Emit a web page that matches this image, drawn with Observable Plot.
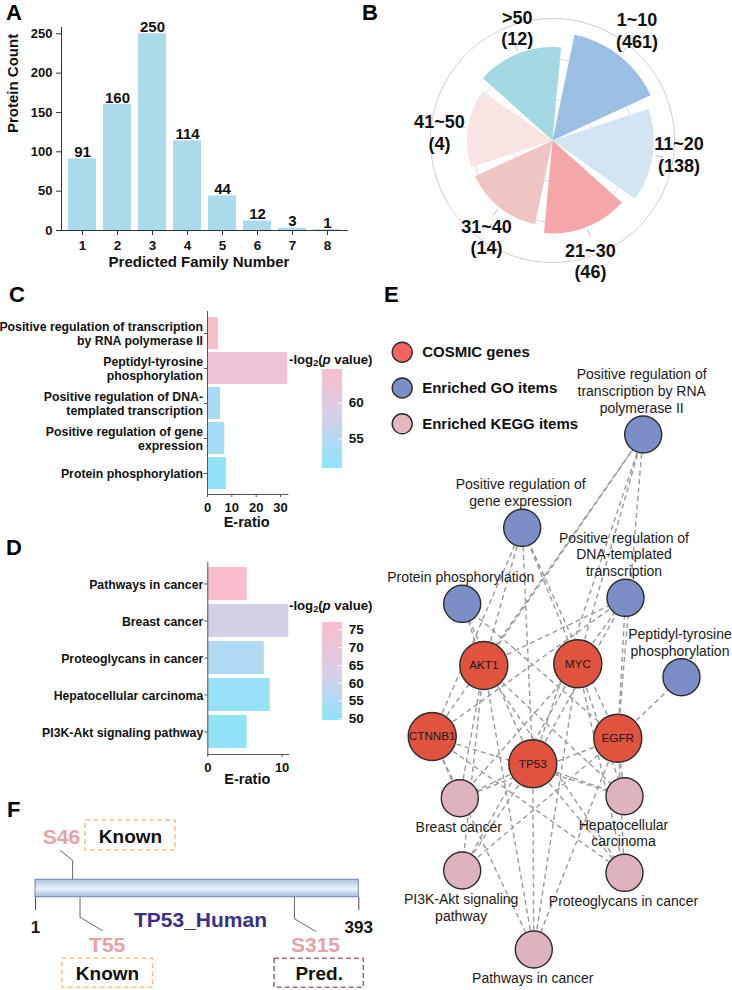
<!DOCTYPE html>
<html><head><meta charset="utf-8">
<script src="https://cdn.jsdelivr.net/npm/d3@7"></script>
<script src="https://cdn.jsdelivr.net/npm/@observablehq/plot@0.6"></script>
<style>
html,body{margin:0;padding:0;background:#fff;}
#fig{position:relative;width:732px;height:990px;overflow:hidden;background:#fff;font-family:"Liberation Sans",Arial,Helvetica,sans-serif;}
.letter{position:absolute;font-weight:bold;font-size:22px;line-height:1;color:#000;}
.lgtitle{position:absolute;font-weight:bold;font-size:13.2px;line-height:14px;white-space:nowrap;color:#111;}
.lgtitle sub{font-size:9px;vertical-align:-2px;line-height:0;}
</style></head><body><div id="fig"></div>
<script>
// ---------------- DATA ----------------
// A: predicted family number histogram
const familyNumbers = ["1","2","3","4","5","6","7","8"];
const proteinCounts = [91,160,250,114,44,12,3,1];
const countTicks = [0,50,100,150,200,250];

// B: rose chart of site ranges
const rangeLabels = ["1~10","11~20","21~30","31~40","41~50",">50"];
const rangeCounts = [461,138,46,14,4,12];
const rangeRadius = [0.885,0.83,0.762,0.70,0.70,0.766]; // radial value (outer ring = 1)
const rangeColors = ["#9cc0e3","#d4e5f2","#f5a6a9","#efc5c3","#f8e4e3","#a4d8e3"];

// C: GO enrichment
const goTerms = ["Positive regulation of transcription by RNA polymerase II","Peptidyl-tyrosine phosphorylation","Positive regulation of DNA-templated transcription","Positive regulation of gene expression","Protein phosphorylation"];
const goTickLabels = ["Positive regulation of transcription\nby RNA polymerase II","Peptidyl-tyrosine\nphosphorylation","Positive regulation of DNA-\ntemplated transcription","Positive regulation of gene\nexpression","Protein phosphorylation"];
const goERatio = [4.5,33,5.4,7.1,7.8];
const goLogP = [64.3,62.4,53.6,53.0,51.3];
const goRatioTicks = [0,10,20,30];
const goLegendTicks = [55,60];

// D: KEGG enrichment
const keggTerms = ["Pathways in cancer","Breast cancer","Proteoglycans in cancer","Hepatocellular carcinoma","PI3K-Akt signaling pathway"];
const keggERatio = [5.3,10.9,7.6,8.4,5.3];
const keggLogP = [76,62,55.3,51.2,50.2];
const keggRatioTicks = [0,10];
const keggLegendTicks = [50,55,60,65,70,75];

// E: network
const geneNodes = ["AKT1","MYC","CTNNB1","EGFR","TP53"];
const goNodes = ["RNA","GENE","PHOS","DNA","PEP"];
const goNodeLabels = ["Positive regulation of\ntranscription by RNA\npolymerase II","Positive regulation of\ngene expression","Protein phosphorylation","Positive regulation of\nDNA-templated\ntranscription","Peptidyl-tyrosine\nphosphorylation"];
const keggNodes = ["BRCA","HCC","PI3K","PGC","PATH"];
const keggNodeLabels = ["Breast cancer","Hepatocellular\ncarcinoma","PI3K-Akt signaling\npathway","Proteoglycans in cancer","Pathways in cancer"];
const networkEdges = [
  ["AKT1","RNA"],["AKT1","GENE"],["AKT1","PHOS"],["AKT1","DNA"],["AKT1","BRCA"],["AKT1","HCC"],["AKT1","PI3K"],["AKT1","PGC"],["AKT1","PATH"],
  ["MYC","RNA"],["MYC","GENE"],["MYC","DNA"],["MYC","BRCA"],["MYC","HCC"],["MYC","PI3K"],["MYC","PGC"],["MYC","PATH"],
  ["CTNNB1","RNA"],["CTNNB1","GENE"],["CTNNB1","DNA"],["CTNNB1","BRCA"],["CTNNB1","HCC"],["CTNNB1","PGC"],["CTNNB1","PATH"],
  ["EGFR","RNA"],["EGFR","GENE"],["EGFR","PHOS"],["EGFR","DNA"],["EGFR","PEP"],["EGFR","BRCA"],["EGFR","HCC"],["EGFR","PI3K"],["EGFR","PGC"],["EGFR","PATH"],
  ["TP53","RNA"],["TP53","GENE"],["TP53","PHOS"],["TP53","DNA"],["TP53","BRCA"],["TP53","HCC"],["TP53","PI3K"],["TP53","PGC"],["TP53","PATH"]
];
const legendLabels = ["COSMIC genes","Enriched GO items","Enriched KEGG items"];

// F: TP53 sites
const proteinName = "TP53_Human";
const proteinLength = 393;
const siteNames = ["S46","T55","S315"];
const sitePositions = [46,55,315];
const siteStatus = ["Known","Known","Pred."];
const siteSide = ["top","bottom","bottom"];

// ---------------- LAYOUT (not data) ----------------
const nodeLayout = {
  RNA:[642.7,434], GENE:[521.7,527.3], PHOS:[461.7,603.3], DNA:[625,597.3], PEP:[681,676.7],
  AKT1:[483.3,665], MYC:[577.3,663.3], CTNNB1:[431.7,736], EGFR:[617.3,737.7], TP53:[532.3,763.3],
  BRCA:[459.3,797.7], HCC:[624,795.7], PI3K:[461.7,870], PGC:[624,872.3], PATH:[533.3,949]
};
// residue-unit layout for panel F callouts
const siteLayout = {
  S46:{bendY:70, endX:31.3, endY:60, labelX:32.5, labelY:46.7, box:[61.6,170.7,30,60], boxTextX:116.2, boxTextY:46.7},
  T55:{bendY:126.7, endX:81.9, endY:140, labelX:87.9, labelY:154.5, box:[33.4,143.7,168.3,197.3], boxTextX:88.3, boxTextY:183.3},
  S315:{bendY:128.3, endX:340.5, endY:140.7, labelX:340.5, labelY:154.5, box:[290.8,399.1,168.3,197.3], boxTextX:345, boxTextY:183.3}
};
// panel B label placement: angle nudge (deg) and gap beyond wedge tip (px)
const roseLabelNudge = [-1, -2.5, 4, -4, -4.3, 4.2];
const roseLabelGap = [31, 26, 33, 31, 28, 25];

const FONT = '"Liberation Sans", Arial, Helvetica, sans-serif';
const fig = document.getElementById("fig");
function place(el, left, top) { el.style.position = "absolute"; el.style.left = left + "px"; el.style.top = top + "px"; fig.appendChild(el); return el; }
const baseStyle = (size, weight) => ({fontFamily: FONT, fontSize: size + "px", fontWeight: weight, color: "#111", background: "transparent", overflow: "visible"});

// ---------- Panel A ----------
const famData = familyNumbers.map((f, i) => ({family: f, count: proteinCounts[i]}));
place(Plot.plot({
  width: 370, height: 280, marginLeft: 61, marginRight: 22, marginTop: 27, marginBottom: 50,
  style: baseStyle(13, "bold"),
  x: {domain: familyNumbers, padding: 0.2, axis: null},
  y: {domain: [0, 258], axis: null},
  marks: [
    Plot.barY(famData, {x: "family", y: "count", fill: "#abdaeb"}),
    Plot.text(famData, {x: "family", y: "count", text: d => String(d.count), lineAnchor: "bottom", dy: -2, fontSize: 15, fill: "#111"}),
    Plot.ruleY([0], {stroke: "#333"}),
    Plot.frame({anchor: "left", stroke: "#333"}),
    Plot.axisX({tickSize: 5, tickPadding: 5, fontSize: 13.5, label: null, stroke: "#333"}),
    Plot.axisY({ticks: countTicks, tickSize: 5, tickPadding: 4, fontSize: 13, label: null, stroke: "#333"}),
    Plot.text(["Predicted Family Number"], {text: d => d, frameAnchor: "bottom", dx: -6, dy: 31.7, lineAnchor: "middle", fontSize: 15}),
    Plot.text(["Protein Count"], {text: d => d, frameAnchor: "left", rotate: -90, dx: -48, dy: 4, lineAnchor: "middle", fontSize: 15})
  ]
}), 0, 0);

// ---------- Panel B ----------
const RING = 122, ROT = 8.5, GAP = 6.5, STEP = 360 / rangeLabels.length;
const polar = (r, deg) => [r * Math.sin(deg * Math.PI / 180), r * Math.cos(deg * Math.PI / 180)];
const arcPts = (r, a0, a1, n = 60) => d3.range(n + 1).map(k => polar(r, a0 + (a1 - a0) * k / n));
const roseData = rangeLabels.map((label, i) => ({label, count: rangeCounts[i], value: rangeRadius[i], color: rangeColors[i],
  a0: ROT + STEP * i + GAP / 2, a1: ROT + STEP * (i + 1) - GAP / 2, mid: ROT + STEP * (i + 0.5),
  nudge: roseLabelNudge[i], gap: roseLabelGap[i]}));
const wedges = roseData.map(d => ({type: "Feature", properties: d,
  geometry: {type: "Polygon", coordinates: [[[0, 0], ...arcPts(d.value * RING, d.a0, d.a1), [0, 0]]]}}));
const rings = [1 / 3, 2 / 3, 1].map(f => ({type: "Feature", properties: {f},
  geometry: {type: "LineString", coordinates: arcPts(f * RING, 0, 360, 180)}}));
const leaders = roseData.map(d => ({type: "Feature", properties: d,
  geometry: {type: "LineString", coordinates: [polar(d.value * RING + 3, d.mid), polar(d.value * RING + 10, d.mid)]}}));
const roseText = roseData.map(d => {
  const [x, y] = polar(d.value * RING + d.gap, d.mid + d.nudge);
  return {x, y, text: d.label + "\n(" + d.count + ")"};
});
place(Plot.plot({
  width: 350, height: 290, margin: 0,
  style: baseStyle(18, "bold"),
  projection: {type: "reflect-y", domain: {type: "MultiPoint", coordinates: [[-175, -145], [175, 145]]}},
  marks: [
    Plot.geo(rings, {stroke: d => d.properties.f === 1 ? "#cfcfcf" : "#d9d9d9", strokeWidth: 1}),
    Plot.geo(wedges, {fill: d => d.properties.color, stroke: "none"}),
    Plot.geo(leaders, {stroke: "#bdbdbd", strokeWidth: 1}),
    Plot.text(roseText, {x: "x", y: "y", text: "text", lineAnchor: "middle", lineHeight: 1.2, fontSize: 18, fill: "#111"})
  ]
}), 377, -5);

// ---------- color ramps for C / D ----------
function ramp(b) {
  const lo = d3.interpolateRgb("#8fe3fb", "#d6d0e7"), hi = d3.interpolateRgb("#d6d0e7", "#fbbccb");
  return t => t < b ? lo(t / b) : hi((t - b) / (1 - b));
}
const colorC = {type: "linear", domain: [51, 64.6], interpolate: ramp(0.55), clamp: true};
const colorD = {type: "linear", domain: [49.7, 77], interpolate: ramp(0.45), clamp: true};

function barPanel(terms, tickLabels, ratios, logps, xMax, ticks, color, opts) {
  const data = terms.map((t, i) => ({term: t, ratio: ratios[i], logp: logps[i]}));
  const lab = new Map(terms.map((t, i) => [t, tickLabels[i]]));
  return Plot.plot({
    width: 372, height: opts.height, marginTop: opts.mt, marginBottom: opts.mb, marginLeft: opts.ml, marginRight: opts.mr,
    style: baseStyle(12.3, "bold"),
    x: {domain: [0, xMax], axis: null},
    y: {domain: terms, padding: opts.pad, axis: null},
    color,
    marks: [
      Plot.barX(data, {x: "ratio", y: "term", fill: "logp"}),
      Plot.ruleX([0], {stroke: "#555"}),
      Plot.frame({anchor: "bottom", stroke: "#555"}),
      Plot.axisY({tickSize: 3, tickPadding: 1.5, tickFormat: t => lab.get(t), lineHeight: 1.17, fontSize: 12.3, label: null, stroke: "#555"}),
      Plot.axisX({ticks, tickSize: 3, tickPadding: 5, fontSize: 13, label: null, stroke: "#555"}),
      Plot.text(["E-ratio"], {text: d => d, frameAnchor: "bottom", dx: -1, dy: opts.labelDy, lineAnchor: "middle", fontSize: 14.5})
    ]
  });
}
function legendPanel(domain, ticks, color, height, mt, mb) {
  const n = 100, s = (domain[1] - domain[0]) / n;
  const slices = d3.range(n).map(k => ({v0: domain[0] + k * s, v1: domain[0] + (k + 1) * s}));
  return Plot.plot({
    width: 72, height, marginTop: mt, marginBottom: mb, marginLeft: 22.7, marginRight: 30.3,
    style: baseStyle(13.5, "bold"),
    y: {domain, axis: null},
    color,
    marks: [
      Plot.rect(slices, {y1: "v0", y2: "v1", fill: "v0", stroke: "v0", strokeWidth: 1, shapeRendering: "crispEdges"}),
      Plot.tickY(ticks, {y: d => d, stroke: "white", strokeWidth: 1, insetLeft: 16}),
      Plot.axisY({anchor: "right", ticks, tickSize: 0, tickPadding: 6.6, fontSize: 13.5, label: null})
    ]
  });
}

// ---------- Panel C ----------
place(barPanel(goTerms, goTickLabels, goERatio, goLogP, 33, goRatioTicks, colorC,
  {height: 230, mt: 11, mb: 36, ml: 207, mr: 84.7, pad: 0.1, labelDy: 27.7}), 0, 300);
place(legendPanel([51, 64.6], goLegendTicks, colorC, 120, 9.3, 12.7), 300, 360);
const tC = document.createElement("div"); tC.className = "lgtitle";
tC.innerHTML = "-log<sub>2</sub>(<i>p</i> value)"; place(tC, 289, 353);

// ---------- Panel D ----------
place(barPanel(keggTerms, keggTerms, keggERatio, keggLogP, 10.9, keggRatioTicks, colorD,
  {height: 240, mt: 12, mb: 36, ml: 207.3, mr: 83.7, pad: 0.1, labelDy: 25.3}), 0, 550);
place(legendPanel([49.7, 77], keggLegendTicks, colorD, 120, 12.3, 10.7), 300, 610);
const tD = document.createElement("div"); tD.className = "lgtitle";
tD.innerHTML = "-log<sub>2</sub>(<i>p</i> value)"; place(tD, 289, 599);

// ---------- Panel E ----------
const P = id => nodeLayout[id];
const edgeRows = networkEdges.map(([a, b]) => ({x1: P(a)[0], y1: P(a)[1], x2: P(b)[0], y2: P(b)[1]}));
const LH = 16.7;
const goRows = goNodes.map((id, i) => { const n = goNodeLabels[i].split("\n").length;
  return {id, x: P(id)[0], y: P(id)[1], label: goNodeLabels[i], ly: P(id)[1] - 27 - (n - 1) * LH / 2}; });
const keggRows = keggNodes.map((id, i) => { const n = keggNodeLabels[i].split("\n").length;
  return {id, x: P(id)[0], y: P(id)[1], label: keggNodeLabels[i], ly: P(id)[1] + 28 + (n - 1) * LH / 2}; });
const geneRows = geneNodes.map(id => ({id, x: P(id)[0], y: P(id)[1]}));
const legendColors = ["#f26462", "#7b8fc6", "#e3b6c0"];
const legendRows = legendLabels.map((t, i) => ({t, c: legendColors[i], y: 351.7 + i * 35.8}));
place(Plot.plot({
  width: 360, height: 690, margin: 0,
  style: baseStyle(14, "normal"),
  x: {domain: [372, 732], range: [0, 360], axis: null},
  y: {domain: [300, 990], range: [0, 690], axis: null},
  marks: [
    Plot.link(edgeRows, {x1: "x1", y1: "y1", x2: "x2", y2: "y2", stroke: "#999", strokeWidth: 1.4, strokeDasharray: "5,3.5"}),
    Plot.dot(goRows, {x: "x", y: "y", r: 18.5, fill: "#7b8fc6", stroke: "#2a2a2a", strokeWidth: 1.4}),
    Plot.dot(keggRows, {x: "x", y: "y", r: 18.5, fill: "#dfb3bd", stroke: "#2a2a2a", strokeWidth: 1.4}),
    Plot.dot(geneRows, {x: "x", y: "y", r: 24, fill: "#e0533f", stroke: "#2a2a2a", strokeWidth: 1.4}),
    Plot.text(geneRows, {x: "x", y: "y", text: "id", fontSize: 11.7, fill: "#1a1a1a", lineAnchor: "middle"}),
    Plot.text(goRows, {x: "x", y: "ly", text: "label", dx: -1.5, fontSize: 14, lineHeight: LH / 14, lineAnchor: "middle", fill: "#1a1a1a"}),
    Plot.text(keggRows, {x: "x", y: "ly", text: "label", dx: -1, fontSize: 14, lineHeight: LH / 14, lineAnchor: "middle", fill: "#1a1a1a"}),
    Plot.dot(legendRows, {x: 401.7, y: "y", r: 10, fill: "c", stroke: "#2a2a2a", strokeWidth: 1.4}),
    Plot.text(legendRows, {x: 421.7, y: "y", text: "t", textAnchor: "start", lineAnchor: "middle", fontSize: 15, fontWeight: "bold", fill: "#111"})
  ]
}), 372, 300);

// ---------- Panel F ----------
const sites = siteNames.map((s, i) => ({name: s, pos: sitePositions[i], status: siteStatus[i], side: siteSide[i], L: siteLayout[s]}));
const BAR_TOP = 89.3, BAR_BOT = 106.7;
const leaderPts = sites.flatMap(d => [
  {site: d.name, x: d.pos, y: d.side === "top" ? BAR_TOP : BAR_BOT},
  {site: d.name, x: d.pos, y: d.L.bendY},
  {site: d.name, x: d.L.endX, y: d.L.endY}
]);
const plotF = Plot.plot({
  width: 372, height: 200, marginLeft: 35, marginRight: 13.7, marginTop: 0, marginBottom: 0,
  style: baseStyle(17, "bold"),
  x: {domain: [1, proteinLength], axis: null},
  y: {domain: [0, 200], range: [0, 200], axis: null},
  marks: [
    Plot.line(leaderPts, {x: "x", y: "y", z: "site", stroke: "#555", strokeWidth: 0.9}),
    Plot.ruleX([1, proteinLength], {x: d => d, y1: BAR_BOT, y2: 120, stroke: "#333", strokeWidth: 0.9}),
    Plot.rect([{s: 1, e: proteinLength}], {x1: "s", x2: "e", y1: BAR_TOP, y2: BAR_BOT, fill: "url(#tp53grad)", stroke: "#6a88b3", strokeWidth: 1}),
    Plot.text([1, proteinLength], {x: d => d, y: 136.7, text: d => String(d), fontSize: 17, lineAnchor: "middle", fill: "#111"}),
    Plot.text([proteinName], {x: 201, y: 130, text: d => d, fontSize: 21, lineAnchor: "middle", fill: "#3a3087"}),
    Plot.text(sites, {x: d => d.L.labelX, y: d => d.L.labelY, text: "name", fontSize: 21, lineAnchor: "middle", fill: "#e8a1a7"}),
    Plot.rect(sites, {x1: d => d.L.box[0], x2: d => d.L.box[1], y1: d => d.L.box[2], y2: d => d.L.box[3], fill: "none",
      stroke: d => d.status === "Known" ? "#f4c591" : "#9c6e7f", strokeWidth: 1.6, strokeDasharray: "5,3"}),
    Plot.text(sites, {x: d => d.L.boxTextX, y: d => d.L.boxTextY, text: "status", fontSize: 19, lineAnchor: "middle", fill: "#111"})
  ]
});
plotF.insertAdjacentHTML("afterbegin",
  '<defs><linearGradient id="tp53grad" x1="0" y1="0" x2="0" y2="1">' +
  '<stop offset="0" stop-color="#a7c1e2"/><stop offset="0.55" stop-color="#eef4fb"/><stop offset="1" stop-color="#a2bcdf"/>' +
  '</linearGradient></defs>');
place(plotF, 0, 790);

// ---------- Panel letters ----------
[["A", 6, 2], ["B", 362, 2], ["C", 9, 284], ["D", 6, 537], ["E", 384, 284], ["F", 7, 799]].forEach(([t, x, y]) => {
  const d = document.createElement("div"); d.className = "letter"; d.textContent = t; place(d, x, y);
});
</script></body></html>
